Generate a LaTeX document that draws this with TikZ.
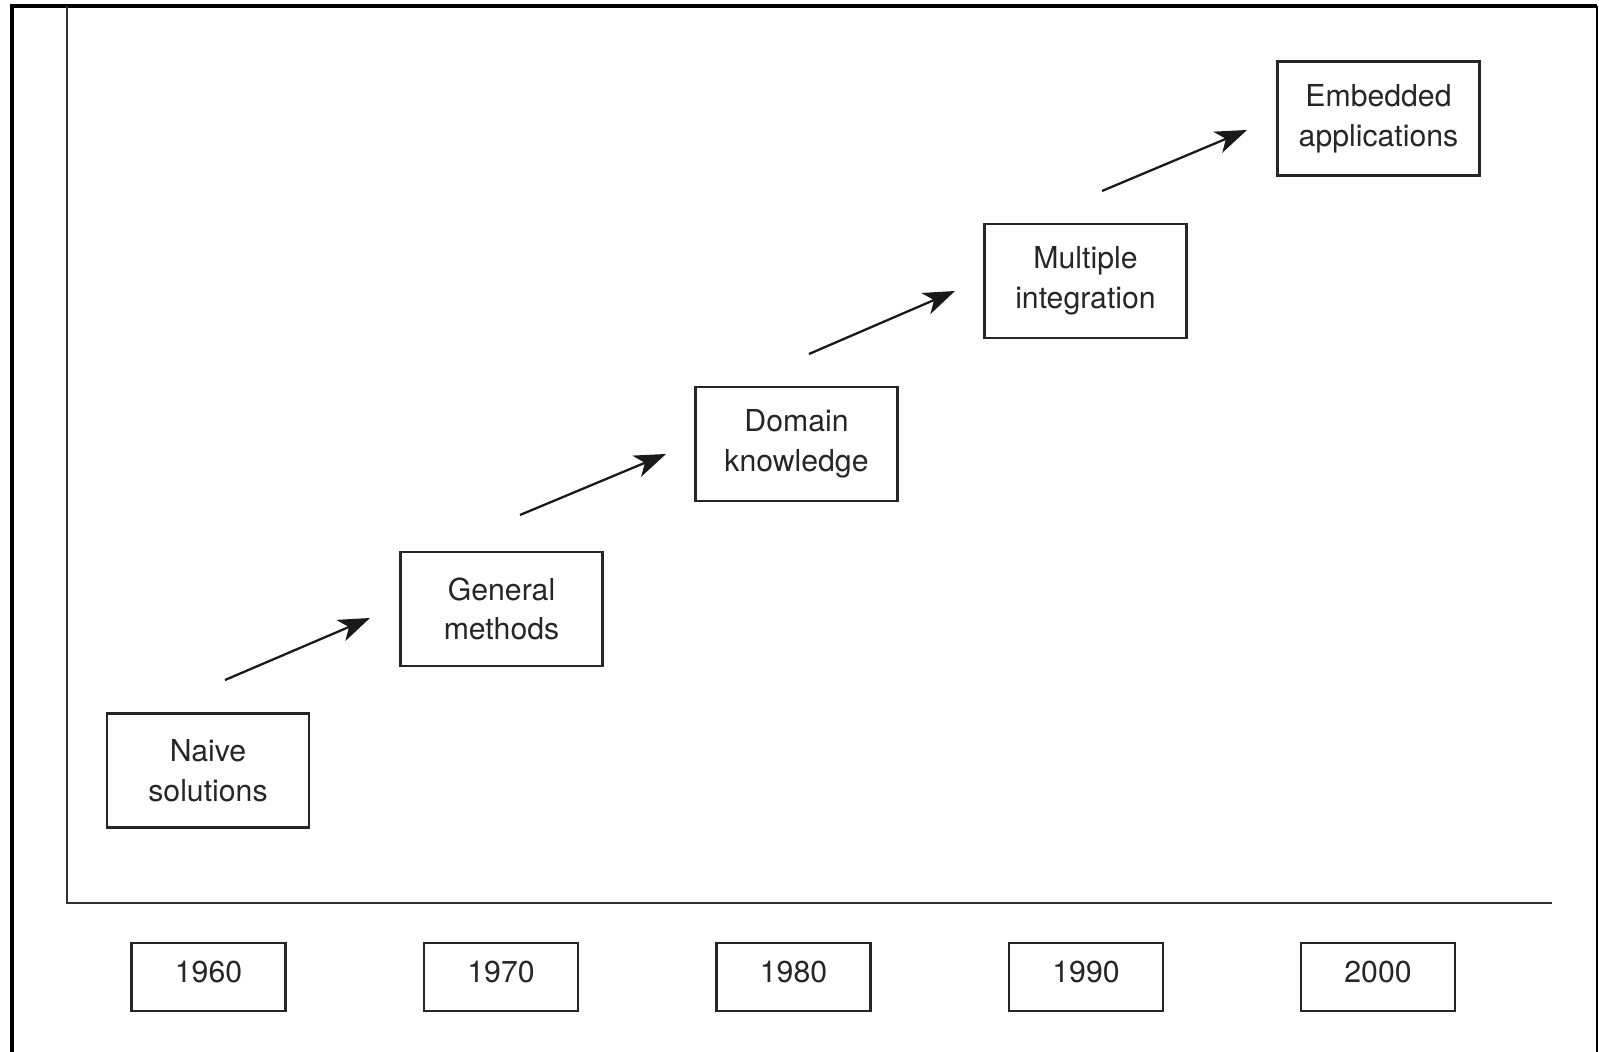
\documentclass[tikz,border=0pt]{standalone}
\usepackage{fontspec}
\setmainfont{TeX Gyre Heros}
\usetikzlibrary{arrows.meta}
\begin{document}
\begin{tikzpicture}[>={Stealth[length=9pt,width=6.5pt,inset=2.5pt]}, x=1cm, y=1cm,
  stage/.style={draw=black!85, line width=0.6pt, align=center, minimum width=2.02cm, minimum height=1.14cm, inner sep=0pt, font=\fontsize{8.6pt}{11.3pt}\selectfont, text=black!85},
  yearbox/.style={draw=black!85, line width=0.6pt, minimum width=1.54cm, minimum height=0.68cm, inner sep=0pt, text depth=2.8pt, font=\fontsize{8.6pt}{11.3pt}\selectfont, text=black!85},
  trend/.style={->, line width=0.65pt, black!90}]
\useasboundingbox (0,0) rectangle (15.99,-10.52);
% frame and axes
\draw[line width=1.2pt] (0.117,-10.52) -- (0.117,-0.06) -- (15.97,-0.06);
\draw[line width=0.45pt] (15.97,-0.06) -- (15.97,-10.52);
\draw[line width=0.5pt, black!80] (0.667,-0.06) -- (0.667,-9.03) -- (15.52,-9.03);
% stages
\node[stage] (n1) at (2.08,-7.705) {Naive\\solutions};
\node[stage] (n2) at (5.015,-6.09) {General\\methods};
\node[stage] (n3) at (7.965,-4.44) {Domain\\knowledge};
\node[stage] (n4) at (10.855,-2.81) {Multiple\\integration};
\node[stage] (n5) at (13.785,-1.185) {Embedded\\applications};
% years
\node[yearbox] (y1) at (2.085,-9.77) {1960};
\node[yearbox] (y2) at (5.01,-9.77) {1970};
\node[yearbox] (y3) at (7.935,-9.77) {1980};
\node[yearbox] (y4) at (10.86,-9.77) {1990};
\node[yearbox] (y5) at (13.78,-9.77) {2000};
% arrows between stages
\coordinate (a1) at (2.25,-6.80);  \coordinate (b1) at (3.70,-6.18);
\coordinate (a2) at (5.20,-5.15);  \coordinate (b2) at (6.66,-4.54);
\coordinate (a3) at (8.09,-3.54);  \coordinate (b3) at (9.55,-2.91);
\coordinate (a4) at (11.02,-1.91); \coordinate (b4) at (12.47,-1.30);
\foreach \i in {1,...,4}
  \draw[trend] (a\i) -- (b\i);
\end{tikzpicture}
\end{document}
